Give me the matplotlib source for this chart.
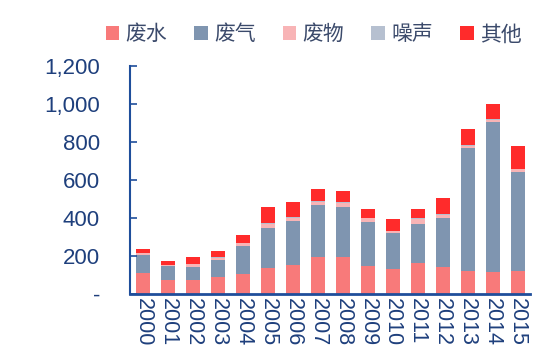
import numpy as np
import matplotlib
matplotlib.use('Agg')
import matplotlib.pyplot as plt
from matplotlib.ticker import FuncFormatter

years = ['2000', '2001', '2002', '2003', '2004', '2005', '2006', '2007',
         '2008', '2009', '2010', '2011', '2012', '2013', '2014', '2015']
water = [108, 70, 73, 85, 103, 135, 148, 192, 194, 147, 129, 159, 138, 120, 112, 117]
gas = [95, 73, 67, 93, 145, 209, 235, 276, 263, 231, 188, 207, 258, 645, 790, 525]
waste = [8, 7, 14, 11, 16, 24, 15, 15, 20, 18, 10, 24, 19, 12, 12, 12]
noise = [3, 3, 4, 4, 4, 6, 4, 4, 4, 4, 3, 8, 5, 4, 4, 4]
other = [23, 21, 33, 30, 40, 83, 82, 65, 61, 44, 64, 49, 81, 87, 81, 116]

labels = ['废水', '废气', '废物', '噪声', '其他']
colors = ['#F87A7A', '#7F95B0', '#F8B4B6', '#B6C0D0', '#FF2B2B']
series = [water, gas, waste, noise, other]

text_color = '#1E3F7C'
spine_color = '#1F4E9B'

fig = plt.figure(figsize=(5.6, 3.62), dpi=100)
ax = fig.add_axes([0.233, 0.189, 0.714, 0.630])

x = np.arange(len(years))
bottom = np.zeros(len(years))
for vals, lab, col in zip(series, labels, colors):
    ax.bar(x, vals, 0.55, bottom=bottom, color=col, label=lab)
    bottom += np.array(vals)

ax.set_xlim(-0.5, 15.5)
ax.set_ylim(0, 1200)
ax.set_yticks(range(0, 1201, 200))
ax.yaxis.set_major_formatter(FuncFormatter(lambda v, p: '-' if v == 0 else f'{int(v):,}'))
ax.set_xticks(x)
ax.set_xticklabels(years, rotation=-90, fontsize=15.5, color=text_color,
                   family='Liberation Sans')
for t in ax.get_yticklabels():
    t.set_fontsize(16)
    t.set_color(text_color)
    t.set_family('Liberation Sans')

ax.spines['top'].set_visible(False)
ax.spines['right'].set_visible(False)
ax.spines['left'].set_color(spine_color)
ax.spines['bottom'].set_color(spine_color)
ax.spines['left'].set_linewidth(1.5)
ax.spines['bottom'].set_linewidth(2)
ax.tick_params(axis='y', direction='in', length=5, width=1.2, color=spine_color, pad=22)
ax.tick_params(axis='x', length=0, pad=3)

leg = fig.legend(loc='center', bbox_to_anchor=(0.56, 0.905), ncol=5, frameon=False,
                 handlelength=0.65, handleheight=0.65, handletextpad=0.3,
                 columnspacing=1.3, prop={'family': 'Noto Sans CJK SC', 'size': 15})
for t in leg.get_texts():
    t.set_color('#3B4A6B')

fig.savefig('out.png', dpi=100)
